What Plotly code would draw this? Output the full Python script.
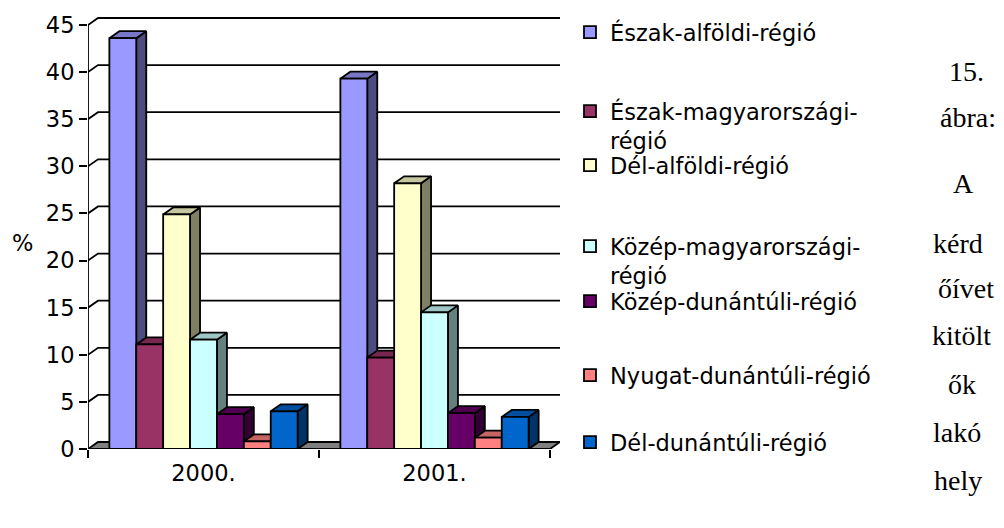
import plotly.graph_objects as go

# ---------------- data ----------------
categories = ["2000.", "2001."]
regions = [
    "Észak-alföldi-régió",
    "Észak-magyarországi-régió",
    "Dél-alföldi-régió",
    "Közép-magyarországi-régió",
    "Közép-dunántúli-régió",
    "Nyugat-dunántúli-régió",
    "Dél-dunántúli-régió",
]
legend_labels = [
    "Észak-alföldi-régió",
    "Észak-magyarországi-<br>régió",
    "Dél-alföldi-régió",
    "Közép-magyarországi-<br>régió",
    "Közép-dunántúli-régió",
    "Nyugat-dunántúli-régió",
    "Dél-dunántúli-régió",
]
values_2000 = [43.6, 11.1, 24.9, 11.6, 3.7, 0.8, 4.0]
values_2001 = [39.3, 9.7, 28.2, 14.5, 3.8, 1.2, 3.4]
y_ticks = [0, 5, 10, 15, 20, 25, 30, 35, 40, 45]
y_axis_title = "%"
caption_words = ["15.", "ábra:", "A", "kérd", "őívet", "kitölt", "ők", "lakó", "hely"]
front_colors = ["#9999FF", "#993366", "#FFFFCC", "#CCFFFF", "#660066", "#FF8080", "#0066CC"]

# ---------------- geometry / style (page pixels) ----------------
PAGE_W, PAGE_H = 1004, 528
OFF = 8                                 # default page body margin
W, H = PAGE_W - OFF, PAGE_H - OFF
L, R, T, B = 88, 560, 10, 449          # plot-area box in page pixels
Y0_PX, YTOP_PX = 449, 25               # page rows of first and last tick
PXY = (Y0_PX - YTOP_PX) / (y_ticks[-1] - y_ticks[0])
DX_PX, DY_PX = 10, 7                   # 3-D depth offset in pixels
XMIN = -0.5
XSPAN_FRONT = len(categories)
DX = XSPAN_FRONT * DX_PX / ((R - L) - DX_PX)
XMAX = XMIN + XSPAN_FRONT + DX
YMAX = (B - T) / PXY
DY = DY_PX / PXY
BARGAP = 0.185
NSER = len(regions)
BW = (1 - BARGAP) / NSER
LW = 1.8
SANS = "DejaVu Sans"
SERIF = "Liberation Serif"
FS = 22.5
CAP_FS = 28
LEG_X = 570

legend_line1_px = [31, 110, 164, 245, 300, 374, 441]
caption_px = [72, 118, 183, 243, 288, 336, 384, 432, 480]
caption_left_px = [947, 938, 951, 931, 936, 930, 946, 931, 932]
PCT_POS = (22, 243)


def shade(hexcol, f):
    h = hexcol.lstrip("#")
    r, g, b = (int(h[i:i + 2], 16) for i in (0, 2, 4))
    return "#%02X%02X%02X" % (int(r * f), int(g * f), int(b * f))


def paper(px, py):
    return (px - L) / (R - L), (B - py) / (B - T)


fig = go.Figure()
x_lo, x_hi = XMIN, XMIN + XSPAN_FRONT

# floor
fig.add_trace(go.Scatter(
    x=[x_lo, x_hi, x_hi + DX, x_lo + DX, x_lo],
    y=[0, 0, DY, DY, 0],
    mode="lines", fill="toself", fillcolor="#808080",
    line=dict(color="black", width=LW), showlegend=False, hoverinfo="skip"))

# back-wall gridlines with left-wall connectors
gx, gy = [], []
for v in y_ticks[1:]:
    gx += [x_lo, x_lo + DX, x_hi + DX, None]
    gy += [v, v + DY, v + DY, None]
fig.add_trace(go.Scatter(x=gx, y=gy, mode="lines",
                         line=dict(color="black", width=LW),
                         showlegend=False, hoverinfo="skip"))

# front value axis line and category axis line
fig.add_trace(go.Scatter(x=[x_lo, x_lo], y=[y_ticks[0], y_ticks[-1]], mode="lines",
                         line=dict(color="black", width=LW), showlegend=False, hoverinfo="skip"))
fig.add_trace(go.Scatter(x=[x_lo, x_hi], y=[0, 0], mode="lines",
                         line=dict(color="black", width=LW), showlegend=False, hoverinfo="skip"))

# side and top faces of the 3-D columns
series_values = [[values_2000[j], values_2001[j]] for j in range(NSER)]
for j in range(NSER):
    sx, sy, tx, ty = [], [], [], []
    for c in range(len(categories)):
        v = series_values[j][c]
        x0 = c - (1 - BARGAP) / 2 + j * BW
        x1 = x0 + BW
        sx += [x1, x1 + DX, x1 + DX, x1, x1, None]
        sy += [0, DY, v + DY, v, 0, None]
        tx += [x0, x1, x1 + DX, x0 + DX, x0, None]
        ty += [v, v, v + DY, v + DY, v, None]
    fig.add_trace(go.Scatter(x=sx, y=sy, mode="lines", fill="toself",
                             fillcolor=shade(front_colors[j], 0.5),
                             line=dict(color="black", width=LW),
                             showlegend=False, hoverinfo="skip"))
    fig.add_trace(go.Scatter(x=tx, y=ty, mode="lines", fill="toself",
                             fillcolor=shade(front_colors[j], 0.78),
                             line=dict(color="black", width=LW),
                             showlegend=False, hoverinfo="skip"))

# front faces: real bars on an overlaid axis pair (drawn above the faces)
for j in range(NSER):
    fig.add_trace(go.Bar(
        x=list(range(len(categories))), y=series_values[j],
        name=legend_labels[j],
        marker=dict(color=front_colors[j], line=dict(color="black", width=LW)),
        xaxis="x2", yaxis="y2",
        legend="legend" if j == 0 else f"legend{j + 1}",
        hovertext=[regions[j]] * 2,
    ))

layout = dict(
    width=W, height=H, autosize=False,
    margin=dict(l=L - OFF, r=PAGE_W - R, t=T - OFF, b=PAGE_H - B, pad=0),
    paper_bgcolor="white", plot_bgcolor="white",
    barmode="group", bargap=BARGAP, bargroupgap=0,
    font=dict(family=SANS, size=FS, color="black"),
    xaxis=dict(range=[XMIN, XMAX], showgrid=False, zeroline=False, showline=False,
               tickvals=[x_lo + k for k in range(len(categories) + 1)],
               ticktext=[""] * (len(categories) + 1),
               ticks="outside", ticklen=8, tickwidth=LW, tickcolor="black", fixedrange=True),
    yaxis=dict(range=[0, YMAX], showgrid=False, zeroline=False, showline=False,
               tickvals=y_ticks, ticks="outside", ticklen=8, tickwidth=LW,
               tickcolor="black", tickfont=dict(family=SANS, size=FS), fixedrange=True),
    xaxis2=dict(range=[XMIN, XMAX], overlaying="x", side="bottom", anchor="y2",
                showgrid=False, zeroline=False, showline=False,
                tickvals=list(range(len(categories))), ticktext=categories,
                ticks="", ticklabelstandoff=8,
                tickfont=dict(family=SANS, size=FS), fixedrange=True),
    yaxis2=dict(range=[0, YMAX], overlaying="y", visible=False, fixedrange=True),
    annotations=[],
)

for j in range(NSER):
    key = "legend" if j == 0 else f"legend{j + 1}"
    lx, ly = paper(LEG_X, legend_line1_px[j] - 20)
    layout[key] = dict(x=lx, y=ly, xanchor="left", yanchor="top",
                       bgcolor="rgba(0,0,0,0)", borderwidth=0,
                       font=dict(family=SANS, size=FS, color="black"),
                       valign="top", itemwidth=30, tracegroupgap=0)

px_, py_ = paper(*PCT_POS)
layout["annotations"].append(dict(text=y_axis_title, x=px_, y=py_, xref="paper", yref="paper",
                                  showarrow=False, xanchor="center", yanchor="middle",
                                  font=dict(family=SANS, size=FS, color="black")))
for word, ypx, xpx in zip(caption_words, caption_px, caption_left_px):
    ax, ay = paper(xpx, ypx)
    layout["annotations"].append(dict(text=word, x=ax, y=ay, xref="paper", yref="paper",
                                      showarrow=False, xanchor="left", yanchor="middle",
                                      font=dict(family=SERIF, size=CAP_FS, color="black")))

fig.update_layout(**layout)
fig.write_html("out.html")
